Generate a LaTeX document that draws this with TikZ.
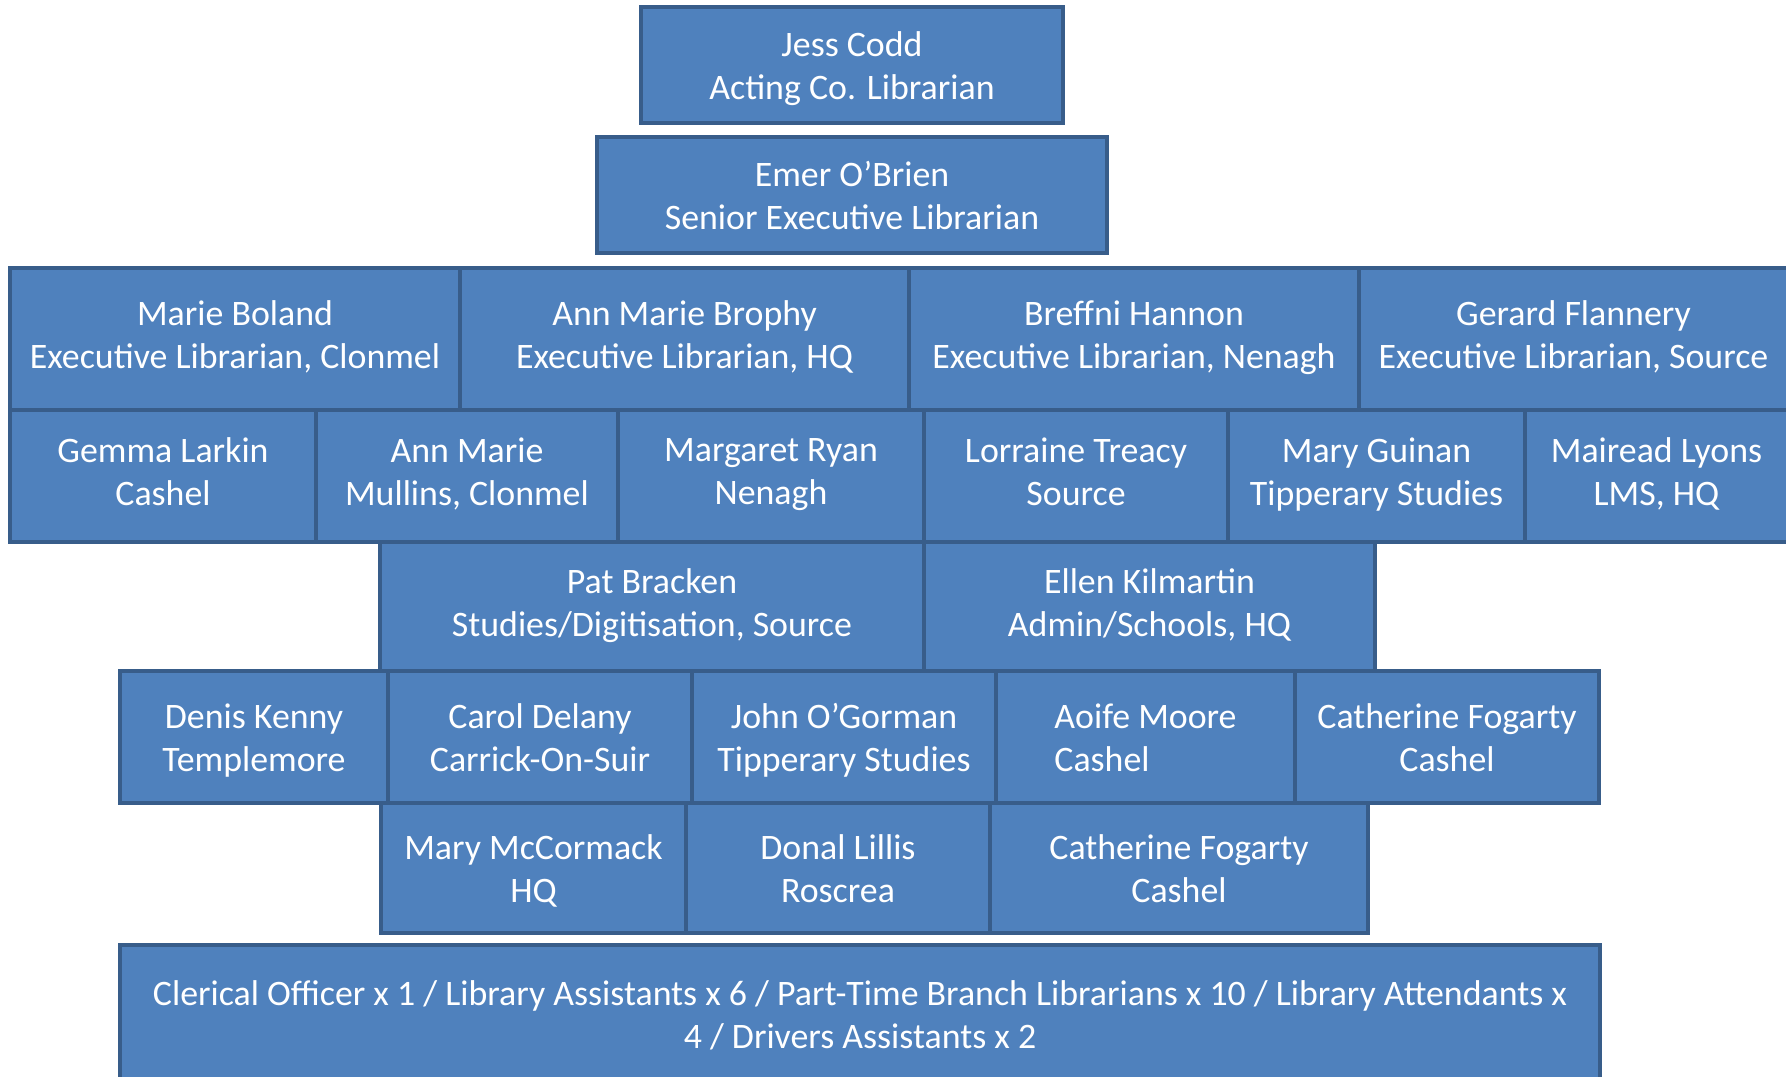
\documentclass[tikz,border=0pt]{standalone}
\usepackage{fontspec}
\setmainfont{Carlito}
\definecolor{boxfill}{HTML}{4F81BD}
\definecolor{boxline}{HTML}{385D8A}
\newcommand{\orgfont}{\fontsize{20.4}{24.6}\selectfont}
\tikzset{
  box/.style={draw=boxline, fill=boxfill, line width=2.3pt,
    inner sep=0pt, outer sep=0pt, anchor=north west},
  size/.style 2 args={minimum width=#1*0.02cm, minimum height=#2*0.02cm},
  txt/.style={text=white, align=center, font=\orgfont, inner sep=0pt,
    execute at begin node=\strut, execute at end node=\strut, yshift=-3.9pt},
  txtmid/.style={txt, yshift=2.6pt}
}
\begin{document}
\begin{tikzpicture}[x=0.02cm, y=-0.02cm]
\useasboundingbox (0,0) rectangle (1786,1076);
\clip (0,0) rectangle (1786,1076);
% top management
\node[box, size={422}{116}, label={[txt]center:{Jess Codd\\Acting Co. Librarian}}] (codd) at (641,7) {};
\node[box, size={510}{116}, label={[txt]center:{Emer O’Brien\\Senior Executive Librarian}}] (obrien) at (597,137) {};
% executive librarians
\node[box, size={450}{142}, label={[txtmid]center:{Marie Boland\\Executive Librarian, Clonmel}}] (boland) at (10,268) {};
\node[box, size={449}{142}, label={[txtmid]center:{Ann Marie Brophy\\Executive Librarian, HQ}}] (brophy) at (460,268) {};
\node[box, size={450}{142}, label={[txtmid]center:{Breffni Hannon\\Executive Librarian, Nenagh}}] (hannon) at (909,268) {};
\node[box, size={429}{142}, label={[txtmid]center:{Gerard Flannery\\Executive Librarian, Source}}] (flannery) at (1359,268) {};
% senior library assistants
\node[box, size={306}{132}, label={[txtmid]center:{Gemma Larkin\\Cashel}}] (larkin) at (10,410) {};
\node[box, size={302}{132}, label={[txtmid]center:{Ann Marie\\Mullins, Clonmel}}] (mullins) at (316,410) {};
\node[box, size={306}{132}, label={[txtmid]center:{Margaret Ryan\\Nenagh}}] (ryan) at (618,410) {};
\node[box, size={304}{132}, label={[txtmid]center:{Lorraine Treacy\\Source}}] (treacy) at (924,410) {};
\node[box, size={297}{132}, label={[txtmid]center:{Mary Guinan\\Tipperary Studies}}] (guinan) at (1228,410) {};
\node[box, size={263}{132}, label={[txtmid]center:{Mairead Lyons\\LMS, HQ}}] (lyons) at (1525,410) {};
% specialist posts
\node[box, size={544}{129}, label={[txtmid]center:{Pat Bracken\\Studies/Digitisation, Source}}] (bracken) at (380,542) {};
\node[box, size={451}{129}, label={[txtmid]center:{Ellen Kilmartin\\Admin/Schools, HQ}}] (kilmartin) at (924,542) {};
% branch staff
\node[box, size={268}{132}, label={[txt]center:{Denis Kenny\\Templemore}}] (kenny) at (120,671) {};
\node[box, size={304}{132}, label={[txt]center:{Carol Delany\\Carrick-On-Suir}}] (delany) at (388,671) {};
\node[box, size={304}{132}, label={[txt]center:{John O’Gorman\\Tipperary Studies}}] (ogorman) at (692,671) {};
\node[box, size={299}{132}, label={[txt, align=left]center:{Aoife Moore\\Cashel}}] (moore) at (996,671) {};
\node[box, size={304}{132}, label={[txt]center:{Catherine Fogarty\\Cashel}}] (fogarty) at (1295,671) {};
\node[box, size={305}{130}, label={[txt]center:{Mary McCormack\\HQ}}] (mccormack) at (381,803) {};
\node[box, size={304}{130}, label={[txt]center:{Donal Lillis\\Roscrea}}] (lillis) at (686,803) {};
\node[box, size={378}{130}, label={[txt]center:{Catherine Fogarty\\Cashel}}] (fogarty2) at (990,803) {};
% general staff
\node[box, size={1480}{138}, label={[txt]center:{Clerical Officer x 1 / Library Assistants x 6 / Part-Time Branch Librarians x 10 / Library Attendants x\\4 / Drivers Assistants x 2}}] (staff) at (120,945) {};
\end{tikzpicture}
\end{document}
